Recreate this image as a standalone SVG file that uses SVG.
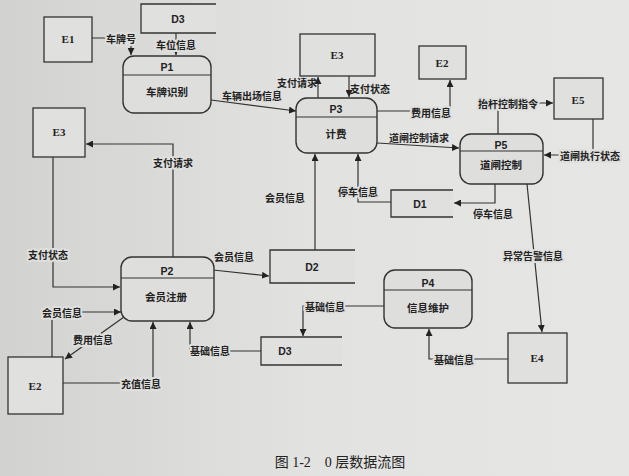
<svg xmlns="http://www.w3.org/2000/svg" width="629" height="476" viewBox="0 0 629 476">
<defs>
<linearGradient id="bg" x1="0" y1="0" x2="1" y2="0">
<stop offset="0" stop-color="#d2d2d0"/>
<stop offset="0.5" stop-color="#e2e2e0"/>
<stop offset="1" stop-color="#e6e6e4"/>
</linearGradient>
<marker id="arr" viewBox="0 0 10 10" refX="10" refY="5" markerWidth="7" markerHeight="7" orient="auto" markerUnits="userSpaceOnUse">
<path d="M0,0 L10,5 L0,10 z" fill="#222"/>
</marker>
</defs>
<style>
.box{fill:#e0e0de;stroke:#333;stroke-width:1.3}
.proc{fill:#dededc;stroke:#333;stroke-width:1.4}
.store{fill:none;stroke:#333;stroke-width:1.3}
.storebg{fill:#e0e0de;stroke:none}
.div{stroke:#333;stroke-width:1.2}
.t{font-family:"Liberation Serif","Noto Sans CJK SC",serif;font-size:11px;fill:#222;text-anchor:middle;dominant-baseline:central;font-weight:bold}
.n{font-family:"Liberation Sans","Noto Sans CJK SC",sans-serif;font-size:10.5px;fill:#222;text-anchor:middle;dominant-baseline:central;font-weight:bold}
.l{font-family:"Noto Sans CJK SC",sans-serif;font-size:10px;fill:#222;text-anchor:middle;dominant-baseline:central;font-weight:bold}
.h{stroke:#dfdfdd;stroke-width:4;paint-order:stroke;stroke-linejoin:round}
.c{fill:none;stroke:#333;stroke-width:1.2;marker-end:url(#arr)}
.cap{font-family:"Liberation Serif","Noto Sans CJK SC",serif;font-size:14px;fill:#222;text-anchor:middle}
</style>
<rect x="0" y="0" width="629" height="476" fill="url(#bg)"/>

<g id="connectors">
<path class="c" d="M92,38 H131 V55"/>
<path class="c" d="M176,33 V55"/>
<path class="c" d="M211,100 L296,111"/>
<path class="c" d="M318,98 V77"/>
<path class="c" d="M349,76 V97"/>
<path class="c" d="M377,111 H450 V80"/>
<path class="c" d="M377,143 L459,148"/>
<path class="c" d="M498,134 V103 H553"/>
<path class="c" d="M593,119 V155 H544"/>
<path class="c" d="M391,202 H358 V154"/>
<path class="c" d="M495,184 V203 H454"/>
<path class="c" d="M315,250 V154"/>
<path class="c" d="M213,270 L269,276"/>
<path class="c" d="M527,184 L542,332"/>
<path class="c" d="M508,359 H429 V329"/>
<path class="c" d="M384,306 H303 V336"/>
<path class="c" d="M261,351 H190 V322"/>
<path class="c" d="M173,257 V144 H86"/>
<path class="c" d="M53,157 V287 H120"/>
<path class="c" d="M52,357 V312 H121"/>
<path class="c" d="M124,317 L65,359"/>
<path class="c" d="M63,383 H153 V322"/>
</g>

<g id="labels">
<text class="l h" x="121" y="38">车牌号</text>
<text class="l h" x="176" y="44">车位信息</text>
<text class="l" x="252" y="95">车辆出场信息</text>
<text class="l" x="297" y="82">支付请求</text>
<text class="l" x="370" y="88">支付状态</text>
<text class="l h" x="431" y="112">费用信息</text>
<text class="l" x="419" y="137">道闸控制请求</text>
<text class="l h" x="508" y="103">抬杆控制指令</text>
<text class="l h" x="590" y="155">道闸执行状态</text>
<text class="l h" x="358" y="191">停车信息</text>
<text class="l" x="493" y="213">停车信息</text>
<text class="l" x="285" y="197">会员信息</text>
<text class="l" x="234" y="256">会员信息</text>
<text class="l h" x="533" y="255">异常告警信息</text>
<text class="l h" x="454" y="359">基础信息</text>
<text class="l h" x="325" y="306">基础信息</text>
<text class="l h" x="210" y="350">基础信息</text>
<text class="l h" x="173" y="162">支付请求</text>
<text class="l h" x="48" y="254">支付状态</text>
<text class="l h" x="62" y="312">会员信息</text>
<text class="l h" x="93" y="339">费用信息</text>
<text class="l h" x="141" y="383">充值信息</text>
</g>

<g id="E1"><rect class="box" x="44" y="17" width="48" height="45"/><text class="t" x="68" y="39">E1</text></g>
<g id="E3-top"><rect class="box" x="300" y="34" width="75" height="42"/><text class="t" x="337" y="55">E3</text></g>
<g id="E2-top"><rect class="box" x="419" y="46" width="47" height="33"/><text class="t" x="442" y="63">E2</text></g>
<g id="E5"><rect class="box" x="554" y="78" width="49" height="41"/><text class="t" x="578" y="100">E5</text></g>
<g id="E3-left"><rect class="box" x="33" y="108" width="52" height="49"/><text class="t" x="59" y="132">E3</text></g>
<g id="E2-bottom"><rect class="box" x="8" y="357" width="55" height="57"/><text class="t" x="35" y="386">E2</text></g>
<g id="E4"><rect class="box" x="508" y="333" width="59" height="50"/><text class="t" x="537" y="358">E4</text></g>

<g id="D3-top"><rect class="storebg" x="141" y="4" width="75" height="29"/><path class="store" d="M216,4 H141 V33 H216"/><text class="n" x="178" y="19">D3</text></g>
<g id="D1"><rect class="storebg" x="391" y="190" width="62" height="27"/><path class="store" d="M453,190 H391 V217 H453"/><text class="n" x="420" y="204">D1</text></g>
<g id="D2"><rect class="storebg" x="270" y="250" width="85" height="33"/><path class="store" d="M355,250 H270 V283 H355"/><text class="n" x="312" y="267">D2</text></g>
<g id="D3-bottom"><rect class="storebg" x="261" y="337" width="81" height="28"/><path class="store" d="M342,337 H261 V365 H342"/><text class="n" x="285" y="351">D3</text></g>

<g id="P1"><rect class="proc" x="123" y="56" width="88" height="57" rx="11"/><line class="div" x1="123" y1="75" x2="211" y2="75"/><text class="n" x="167" y="67">P1</text><text class="n" x="167" y="92">车牌识别</text></g>
<g id="P3"><rect class="proc" x="296" y="98" width="81" height="55" rx="11"/><line class="div" x1="296" y1="117" x2="377" y2="117"/><text class="n" x="336" y="109">P3</text><text class="n" x="336" y="134">计费</text></g>
<g id="P5"><rect class="proc" x="460" y="134" width="83" height="50" rx="11"/><line class="div" x1="460" y1="151" x2="543" y2="151"/><text class="n" x="501" y="145">P5</text><text class="n" x="501" y="165">道闸控制</text></g>
<g id="P2"><rect class="proc" x="121" y="257" width="93" height="64" rx="11"/><line class="div" x1="121" y1="278" x2="214" y2="278"/><text class="n" x="167" y="271">P2</text><text class="n" x="166" y="297">会员注册</text></g>
<g id="P4"><rect class="proc" x="384" y="270" width="88" height="58" rx="11"/><line class="div" x1="384" y1="290" x2="472" y2="290"/><text class="n" x="428" y="283">P4</text><text class="n" x="428" y="308">信息维护</text></g>

<text class="cap" x="340" y="467">图 1-2　0 层数据流图</text>
</svg>
